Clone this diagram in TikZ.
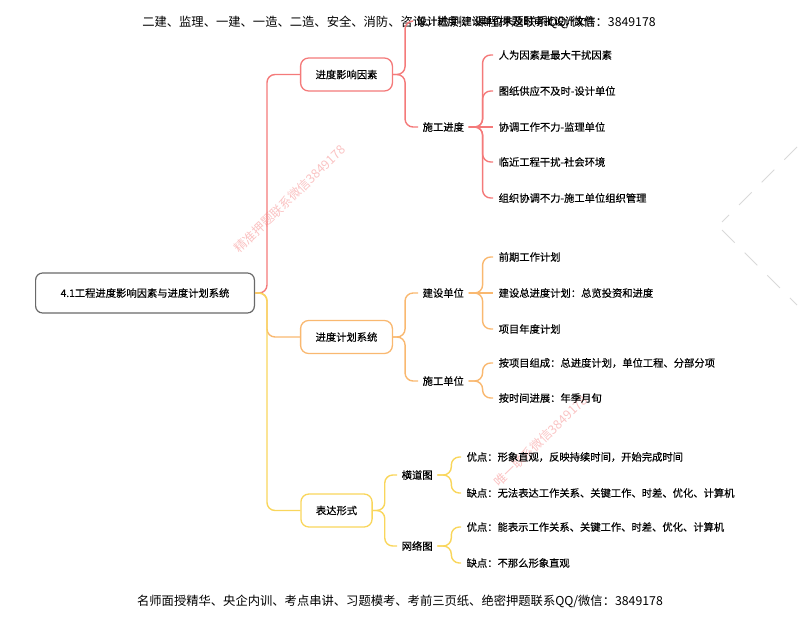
\documentclass[tikz,border=0pt]{standalone}
\usepackage{fontspec}
\setmainfont{Noto Sans CJK SC}
\newfontface\treefont{Noto Sans CJK SC}[FakeBold=0.35]
\usetikzlibrary{positioning,calc}
\definecolor{brred}{RGB}{244,122,122}
\definecolor{brorange}{RGB}{249,184,112}
\definecolor{bryellow}{RGB}{249,214,92}
\definecolor{rootgray}{RGB}{105,105,105}

\begin{document}
\begin{tikzpicture}[x=1pt, y=-1pt, line width=1.4pt,
  every node/.style={font=\treefont\fontsize{10.3}{12}\selectfont},
  rootbox/.style={draw=rootgray, rounded corners=7pt, inner xsep=25pt, minimum height=40pt, line width=1.2pt, fill=white},
  topic/.style={rounded corners=8pt, inner xsep=15pt, minimum height=33pt, line width=1.3pt, fill=white},
  sub/.style={anchor=west, inner sep=4pt},
  leaf/.style={anchor=west, inner sep=5pt},
  link/.style={rounded corners=8pt, line width=1.4pt},
  wmark/.style={text=brred!45, rotate=44, font=\rmfamily\fontsize{12.5}{14}\selectfont},
  banner/.style={font=\rmfamily\fontsize{12.3}{14}\selectfont}]
  \useasboundingbox (0,0) rectangle (800,622);

  % watermarks
  \node[wmark] (wm1) at (290,199) {精准押题联系微信3849178};
  \node[wmark] (wm2) at (541,441) {唯一联系微信3849178};
  \draw[gray!30, line width=0.8pt, dash pattern=on 18pt off 14pt] (797,147) -- (722,222);
  \draw[gray!30, line width=0.8pt, dash pattern=on 18pt off 14pt] (722,230) -- (797,305);

  % header / footer
  \node[banner] (head) at (399,22) {二建、监理、一建、一造、二造、安全、消防、咨询、检测、课程押题联系QQ/微信：3849178};
  \node[banner] (foot) at (400,601) {名师面授精华、央企内训、考点串讲、习题模考、考前三页纸、绝密押题联系QQ/微信：3849178};

  % root and main topics
  \node[rootbox] (root) at (145,293) {4.1工程进度影响因素与进度计划系统};
  \node[topic, draw=brred] (yx) at (346.5,74.5) {进度影响因素};
  \node[topic, draw=brorange] (jh) at (346.5,337) {进度计划系统};
  \node[topic, draw=bryellow] (bd) at (336.5,510.5) {表达形式};

  \draw[link, brred] (root.east) -- ++(12,0) |- (yx.west);
  \draw[link, brorange] (root.east) -- ++(12,0) |- (jh.west);
  \draw[link, bryellow] (root.east) -- ++(12,0) |- (bd.west);

  % 进度影响因素
  \node[sub] (sjjd) at (412,21) {设计进度-建设单位未及时审批设计文件};
  \node[sub] (sgjd) at (418,127) {施工进度};
  \draw[link, brred] (yx.east) -- ++(12,0) |- (sjjd.west);
  \draw[link, brred] (yx.east) -- ++(12,0) |- (sgjd.west);

  \node[leaf] (a1) at (493,55) {人为因素是最大干扰因素};
  \node[leaf] (a2) at (493,91) {图纸供应不及时-设计单位};
  \node[leaf] (a3) at (493,127) {协调工作不力-监理单位};
  \node[leaf] (a4) at (493,162) {临近工程干扰-社会环境};
  \node[leaf] (a5) at (493,198) {组织协调不力-施工单位组织管理};
  \draw[link, brred] (sgjd.east) -- ++(14,0) |- (a1.west);
  \draw[link, brred] (sgjd.east) -- ++(14,0) |- (a2.west);
  \draw[link, brred] (sgjd.east) -- (a3.west);
  \draw[link, brred] (sgjd.east) -- ++(14,0) |- (a4.west);
  \draw[link, brred] (sgjd.east) -- ++(14,0) |- (a5.west);

  % 进度计划系统
  \node[sub] (jsdw) at (418,293) {建设单位};
  \node[sub] (sgdw) at (418,381) {施工单位};
  \draw[link, brorange] (jh.east) -- ++(12,0) |- (jsdw.west);
  \draw[link, brorange] (jh.east) -- ++(12,0) |- (sgdw.west);

  \node[leaf] (b1) at (493,257) {前期工作计划};
  \node[leaf] (b2) at (493,293) {建设总进度计划：总览投资和进度};
  \node[leaf] (b3) at (493,329) {项目年度计划};
  \draw[link, brorange] (jsdw.east) -- ++(14,0) |- (b1.west);
  \draw[link, brorange] (jsdw.east) -- (b2.west);
  \draw[link, brorange] (jsdw.east) -- ++(14,0) |- (b3.west);

  \node[leaf] (b4) at (493,363) {按项目组成：总进度计划，单位工程、分部分项};
  \node[leaf] (b5) at (493,398) {按时间进展：年季月旬};
  \draw[link, brorange] (sgdw.east) -- ++(14,0) |- (b4.west);
  \draw[link, brorange] (sgdw.east) -- ++(14,0) |- (b5.west);

  % 表达形式
  \node[sub] (hdt) at (397,475) {横道图};
  \node[sub] (wlt) at (397,546) {网络图};
  \draw[link, bryellow] (bd.east) -- ++(12,0) |- (hdt.west);
  \draw[link, bryellow] (bd.east) -- ++(12,0) |- (wlt.west);

  \node[leaf] (c1) at (461,457) {优点：形象直观，反映持续时间，开始完成时间};
  \node[leaf] (c2) at (461,493) {缺点：无法表达工作关系、关键工作、时差、优化、计算机};
  \node[leaf] (c3) at (461,527) {优点：能表示工作关系、关键工作、时差、优化、计算机};
  \node[leaf] (c4) at (461,563) {缺点：不那么形象直观};
  \draw[link, bryellow] (hdt.east) -- ++(14,0) |- (c1.west);
  \draw[link, bryellow] (hdt.east) -- ++(14,0) |- (c2.west);
  \draw[link, bryellow] (wlt.east) -- ++(14,0) |- (c3.west);
  \draw[link, bryellow] (wlt.east) -- ++(14,0) |- (c4.west);
\end{tikzpicture}
\end{document}
